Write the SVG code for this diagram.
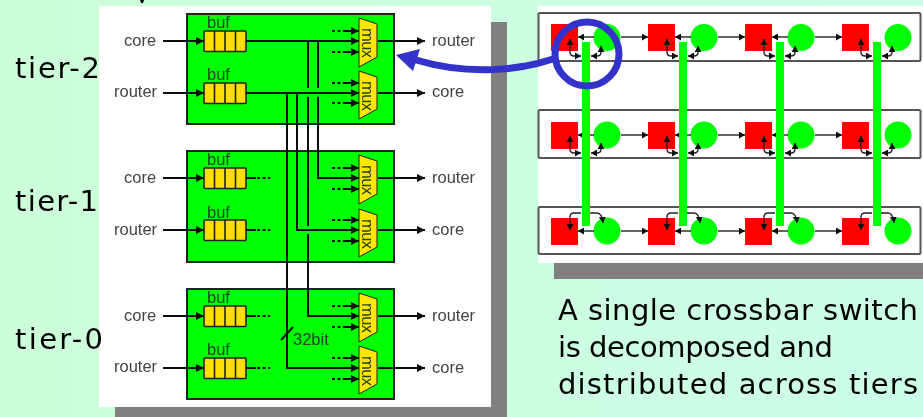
<svg xmlns="http://www.w3.org/2000/svg" xmlns:xlink="http://www.w3.org/1999/xlink" width="923" height="417" viewBox="0 0 923 417">
<style>
.bg{fill:#ccffdd}
.shadow{fill:#808080}
.panel{fill:#fff}
.tier{fill:#00ff00;stroke:#222;stroke-width:2}
.buf{fill:#ffdd00;stroke:#222;stroke-width:1.6}
.mux{fill:#ffe600;stroke:#222;stroke-width:1}
.lbl{font-family:"Liberation Sans",Arial,sans-serif;font-size:16.5px;fill:#444}
.in{font-family:"Liberation Sans",Arial,sans-serif;font-size:16.5px;fill:#224422}
.hand{font-family:"DejaVu Sans",sans-serif;font-size:29px;fill:#000}
.w{fill:none;stroke:#111;stroke-width:2}
.a{marker-end:url(#ah)}
.d{fill:none;stroke:#111;stroke-width:2;stroke-dasharray:3 2.5}
.row{fill:none;stroke:#555;stroke-width:2}
.rw{fill:none;stroke:#222;stroke-width:1.4}
.ra{marker-end:url(#sh)}
.rb{marker-start:url(#sh);marker-end:url(#sh)}
.sq{fill:#ff0000}
.ci{fill:#00ff00}
.bar{fill:#00ff00}
</style>
<defs>
<linearGradient id="g" x1="0" y1="0" x2="1" y2="0"><stop offset="0" stop-color="#ccffd8"/><stop offset="1" stop-color="#ccffe8"/></linearGradient>
<filter id="b" filterUnits="userSpaceOnUse" x="0" y="0" width="923" height="417"><feGaussianBlur stdDeviation="0.75"/></filter>
<marker id="ah" markerUnits="userSpaceOnUse" markerWidth="9" markerHeight="8" refX="8" refY="4" orient="auto-start-reverse"><path d="M0 0L8 4L0 8Z" fill="#111"/></marker>
<marker id="sh" markerUnits="userSpaceOnUse" markerWidth="7" markerHeight="7" refX="6" refY="3.500" orient="auto-start-reverse"><path d="M0 0L6 3.500L0 7Z" fill="#111"/></marker>
<g id="bufshape"><rect class="buf" x="0" y="0" width="42" height="20.5" rx="1"/><path d="M10.5 0V20.5M21 0V20.5M31.5 0V20.5" stroke="#222" stroke-width="1.6"/></g>
<polygon id="mux1" class="mux" points="0,0 18,6 18,39 0,49"/>
<polygon id="mux2" class="mux" points="0,0 18,6 18,38 0,48"/>
</defs>
<rect id="background" class="bg" width="923" height="417" style="fill:url(#g)"/>
<path d="M140 0h4l-1 3h-2z" fill="#000"/>
<rect class="shadow" x="115" y="22" width="392" height="395"/>
<rect class="panel" x="99" y="6" width="392" height="401"/>
<rect class="shadow" x="554" y="22" width="369" height="257"/>
<rect class="panel" x="538" y="6" width="385" height="257"/>

<g filter="url(#b)">
<g id="tier-2-box">
<rect class="tier" x="187" y="14" width="207" height="110"/>
<use xlink:href="#bufshape" href="#bufshape" x="204" y="31"/>
<use xlink:href="#bufshape" href="#bufshape" x="204" y="83"/>
<use xlink:href="#mux1" href="#mux1" x="359" y="18"/>
<use xlink:href="#mux2" href="#mux2" x="359" y="71"/>
<text class="in" x="207" y="27.500">buf</text>
<text class="in" x="207" y="80">buf</text>
<text class="lbl" x="124" y="46">core</text>
<text class="lbl" x="114" y="97">router</text>
<text class="lbl" x="432" y="46">router</text>
<text class="lbl" x="432" y="97">core</text>
<text class="in" transform="translate(362,28) rotate(90)" textLength="30">mux</text>
<text class="in" transform="translate(362,81) rotate(90)" textLength="30">mux</text>
</g>
<g id="tier-1-box">
<rect class="tier" x="187" y="151" width="207" height="111"/>
<use xlink:href="#bufshape" href="#bufshape" x="204" y="168"/>
<use xlink:href="#bufshape" href="#bufshape" x="204" y="220"/>
<use xlink:href="#mux1" href="#mux1" x="359" y="155"/>
<use xlink:href="#mux2" href="#mux2" x="359" y="209"/>
<text class="in" x="207" y="164.500">buf</text>
<text class="in" x="207" y="218">buf</text>
<text class="lbl" x="124" y="183">core</text>
<text class="lbl" x="114" y="235">router</text>
<text class="lbl" x="432" y="183">router</text>
<text class="lbl" x="432" y="235">core</text>
<text class="in" transform="translate(362,165) rotate(90)" textLength="30">mux</text>
<text class="in" transform="translate(362,219) rotate(90)" textLength="30">mux</text>
</g>
<g id="tier-0-box">
<rect class="tier" x="187" y="289" width="207" height="110"/>
<use xlink:href="#bufshape" href="#bufshape" x="204" y="306"/>
<use xlink:href="#bufshape" href="#bufshape" x="204" y="358"/>
<use xlink:href="#mux1" href="#mux1" x="359" y="293"/>
<use xlink:href="#mux2" href="#mux2" x="359" y="346"/>
<text class="in" x="207" y="302.500">buf</text>
<text class="in" x="207" y="355">buf</text>
<text class="lbl" x="124" y="321">core</text>
<text class="lbl" x="114" y="372">router</text>
<text class="lbl" x="432" y="321">router</text>
<text class="lbl" x="432" y="373">core</text>
<text class="in" transform="translate(362,303) rotate(90)" textLength="30">mux</text>
<text class="in" transform="translate(362,356) rotate(90)" textLength="30">mux</text>
<text class="in" x="293" y="345">32bit</text>
</g>
<g id="tier-connectors">
<path class="w a" d="M163 41H204"/><path class="w a" d="M163 93H204"/>
<path class="w a" d="M246 41H359"/><path class="w a" d="M246 93H359"/>
<path class="w a" d="M378 41H425"/><path class="w a" d="M378 93H425"/>
<path class="w a" d="M163 178H204"/><path class="w a" d="M163 230H204"/>
<path class="w a" d="M378 178H425"/><path class="w a" d="M378 230H425"/>
<path class="w a" d="M163 316H204"/><path class="w a" d="M163 368H204"/>
<path class="w a" d="M378 316H425"/><path class="w a" d="M378 368H425"/>
<path class="w" d="M308 41V88M318 41V88M308 97V226"/>
<path class="w a" d="M318 97V178H359"/>
<path class="w a" d="M297 93V230H359"/>
<path class="w a" d="M287 93V368H359"/>
<path class="w a" d="M308 234V316H359"/>
<path class="w" d="M281 340L293 327"/>
<path class="w" d="M246 178H256M246 230H256M246 316H256M246 368H256"/>
<path class="d" d="M257 178H270M257 230H270M257 316H270M257 368H270"/>
<path class="d" d="M332 31H344M332 52H344M332 83H344M332 103H344M332 168H344M332 189H344M332 220H344M332 241H344M332 306H344M332 327H344M332 358H344M332 379H344"/>
<path class="w a" d="M343 31H359"/><path class="w a" d="M343 52H359"/><path class="w a" d="M343 83H359"/><path class="w a" d="M343 103H359"/>
<path class="w a" d="M343 168H359"/><path class="w a" d="M343 189H359"/><path class="w a" d="M343 220H359"/><path class="w a" d="M343 241H359"/>
<path class="w a" d="M343 306H359"/><path class="w a" d="M343 327H359"/><path class="w a" d="M343 358H359"/><path class="w a" d="M343 379H359"/>
</g>
</g>

<g filter="url(#b)">
<g id="rows">
<rect class="row" x="538.500" y="13" width="382" height="48" rx="1.500"/>
<rect class="row" x="538.500" y="110" width="382" height="48" rx="1.500"/>
<rect class="row" x="538.500" y="207" width="382" height="47" rx="1.500"/>
</g>
<g id="r0c0"><rect class="sq" x="551" y="24" width="27" height="27"/><circle class="ci" cx="607" cy="37.500" r="13.500"/></g>
<g id="r0c1"><rect class="sq" x="648" y="24" width="27" height="27"/><circle class="ci" cx="704" cy="37.500" r="13.500"/></g>
<g id="r0c2"><rect class="sq" x="745" y="24" width="27" height="27"/><circle class="ci" cx="801" cy="37.500" r="13.500"/></g>
<g id="r0c3"><rect class="sq" x="842" y="24" width="27" height="27"/><circle class="ci" cx="898" cy="37.500" r="13.500"/></g>
<g id="r1c0"><rect class="sq" x="551" y="122" width="27" height="27"/><circle class="ci" cx="607" cy="135" r="13.500"/></g>
<g id="r1c1"><rect class="sq" x="648" y="122" width="27" height="27"/><circle class="ci" cx="704" cy="135" r="13.500"/></g>
<g id="r1c2"><rect class="sq" x="745" y="122" width="27" height="27"/><circle class="ci" cx="801" cy="135" r="13.500"/></g>
<g id="r1c3"><rect class="sq" x="842" y="122" width="27" height="27"/><circle class="ci" cx="898" cy="135" r="13.500"/></g>
<g id="r2c0"><rect class="sq" x="551" y="218" width="27" height="27"/><circle class="ci" cx="607" cy="231" r="13.500"/></g>
<g id="r2c1"><rect class="sq" x="648" y="218" width="27" height="27"/><circle class="ci" cx="704" cy="231" r="13.500"/></g>
<g id="r2c2"><rect class="sq" x="745" y="218" width="27" height="27"/><circle class="ci" cx="801" cy="231" r="13.500"/></g>
<g id="r2c3"><rect class="sq" x="842" y="218" width="27" height="27"/><circle class="ci" cx="898" cy="231" r="13.500"/></g>
<g id="grid-connectors">
<path class="rw ra" d="M594 37H578"/><path class="rw ra" d="M621 37H648"/><path class="rw ra" d="M691 37H675"/><path class="rw ra" d="M718 37H745"/><path class="rw ra" d="M788 37H772"/><path class="rw ra" d="M815 37H842"/>
<path class="rw ra" d="M594 135H578"/><path class="rw ra" d="M621 135H648"/><path class="rw ra" d="M691 135H675"/><path class="rw ra" d="M718 135H745"/><path class="rw ra" d="M788 135H772"/><path class="rw ra" d="M815 135H842"/>
<path class="rw ra" d="M594 231H578"/><path class="rw ra" d="M621 231H648"/><path class="rw ra" d="M691 231H675"/><path class="rw ra" d="M718 231H745"/><path class="rw ra" d="M788 231H772"/><path class="rw ra" d="M815 231H842"/>
<path class="rw rb" d="M570 39V52Q570 56 574 56H581"/><path class="rw rb" d="M591 56H597Q601 56 601 52V46"/>
<path class="rw rb" d="M667 39V52Q667 56 671 56H678"/><path class="rw rb" d="M688 56H694Q698 56 698 52V46"/>
<path class="rw rb" d="M764 39V52Q764 56 768 56H775"/><path class="rw rb" d="M785 56H791Q795 56 795 52V46"/>
<path class="rw rb" d="M861 39V52Q861 56 865 56H872"/><path class="rw rb" d="M882 56H888Q892 56 892 52V46"/>
<path class="rw rb" d="M570 136V149Q570 153 574 153H581"/><path class="rw rb" d="M591 153H597Q601 153 601 149V143"/>
<path class="rw rb" d="M667 136V149Q667 153 671 153H678"/><path class="rw rb" d="M688 153H694Q698 153 698 149V143"/>
<path class="rw rb" d="M764 136V149Q764 153 768 153H775"/><path class="rw rb" d="M785 153H791Q795 153 795 149V143"/>
<path class="rw rb" d="M861 136V149Q861 153 865 153H872"/><path class="rw rb" d="M882 153H888Q892 153 892 149V143"/>
<path class="rw ra" d="M581 213H574Q570 213 570 217V230"/><path class="rw ra" d="M590 213H597Q602 213 603 223"/>
<path class="rw ra" d="M678 213H671Q667 213 667 217V230"/><path class="rw ra" d="M687 213H694Q699 213 700 223"/>
<path class="rw ra" d="M775 213H768Q764 213 764 217V230"/><path class="rw ra" d="M784 213H791Q796 213 797 223"/>
<path class="rw ra" d="M872 213H865Q861 213 861 217V230"/><path class="rw ra" d="M881 213H888Q893 213 894 223"/>
</g>
<g id="vertical-links">
<rect class="bar" x="582" y="42" width="8" height="184"/>
<rect class="bar" x="679" y="42" width="8" height="184"/>
<rect class="bar" x="776" y="42" width="8" height="184"/>
<rect class="bar" x="873" y="42" width="8" height="184"/>
</g>
</g>

<g id="tier-labels">
<text class="hand" x="15" y="78" textLength="85">tier-2</text>
<text class="hand" x="15" y="211" textLength="83">tier-1</text>
<text class="hand" x="15" y="349" textLength="88">tier-0</text>
</g>
<g id="caption">
<text class="hand" x="558" y="320" textLength="360">A single crossbar switch</text>
<text class="hand" x="558" y="357" textLength="275">is decomposed and</text>
<text class="hand" x="558" y="394" textLength="360">distributed across tiers</text>
</g>
<g id="callout">
<circle cx="587" cy="54" r="32" fill="none" stroke="#3333cc" stroke-width="7"/>
<path d="M553 59C520 70 470 76 416 60" fill="none" stroke="#3333cc" stroke-width="7"/>
<polygon points="396,55 420,49 413,71" fill="#3333cc"/>
</g>
</svg>
